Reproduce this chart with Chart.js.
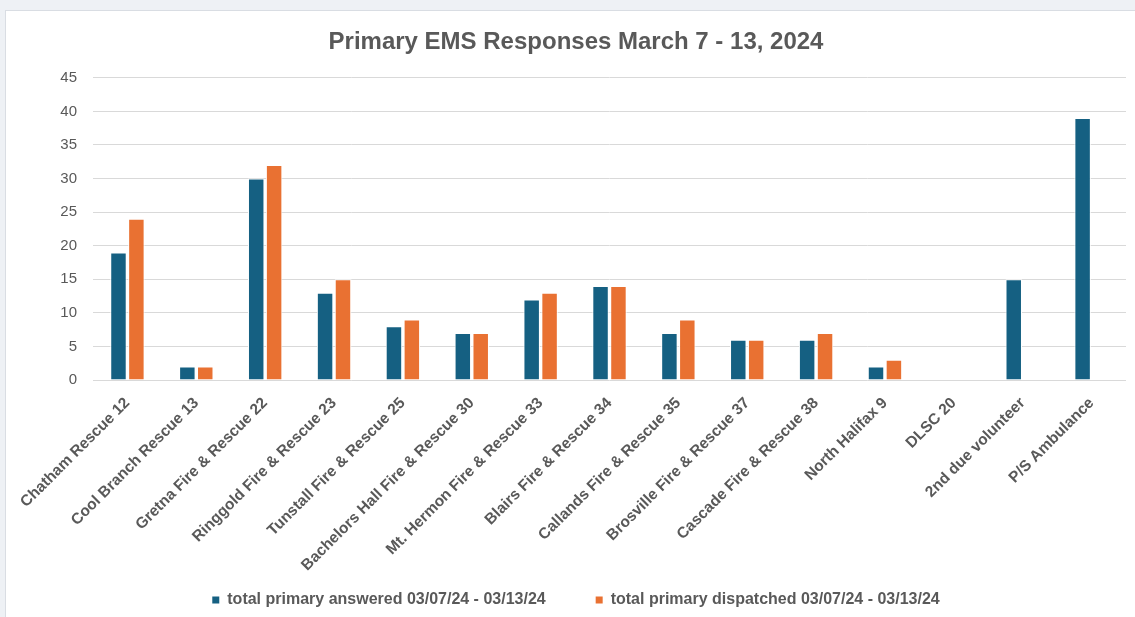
<!DOCTYPE html>
<html>
<head>
<meta charset="utf-8">
<script src="https://cdn.jsdelivr.net/npm/chart.js@4"></script>
<style>
  html, body { margin: 0; padding: 0; background: #eef1f5; width: 1135px; height: 617px; overflow: hidden; }
  #panel { position: absolute; left: 5px; top: 10px; width: 1130px; height: 607px; background: #fff; border-top: 1px solid #d9dde3; border-left: 1px solid #d9dde3; box-sizing: border-box; }
  canvas { display: block; }
</style>
</head>
<body>
<div id="panel"><canvas id="c" width="1129" height="606"></canvas></div>
<script>
const categories = [
  "Chatham Rescue 12", "Cool Branch Rescue 13", "Gretna Fire & Rescue 22",
  "Ringgold Fire & Rescue 23", "Tunstall Fire & Rescue 25", "Bachelors Hall Fire & Rescue 30",
  "Mt. Hermon Fire & Rescue 33", "Blairs Fire & Rescue 34", "Callands Fire & Rescue 35",
  "Brosville Fire & Rescue 37", "Cascade Fire & Rescue 38", "North Halifax 9",
  "DLSC 20", "2nd due volunteer", "P/S Ambulance"
];
const answered   = [19, 2, 30, 13, 8, 7, 12, 14, 7, 6, 6, 2, 0, 15, 39];
const dispatched = [24, 2, 32, 15, 9, 7, 13, 14, 9, 6, 7, 3, 0, null, null];
const seriesNames = [
  "total primary answered 03/07/24 - 03/13/24",
  "total primary dispatched 03/07/24 - 03/13/24"
];
const yTicks = [0, 5, 10, 15, 20, 25, 30, 35, 40, 45];
const titleText = "Primary EMS Responses March 7 - 13, 2024";

const gray = "#595959";
const FONT = "'Liberation Sans', Arial, sans-serif";

new Chart(document.getElementById("c"), {
  type: "bar",
  data: {
    labels: categories,
    datasets: [
      { label: seriesNames[0], data: answered, backgroundColor: "#156082", borderColor: "#ffffff", borderWidth: 1, categoryPercentage: 0.52, barPercentage: 0.92 },
      { label: seriesNames[1], data: dispatched, backgroundColor: "#E97132", borderColor: "#ffffff", borderWidth: 1, categoryPercentage: 0.52, barPercentage: 0.92 }
    ]
  },
  options: {
    responsive: false,
    animation: false,
    devicePixelRatio: 1,
    layout: { padding: { left: 20, right: 9, top: 0, bottom: -1 } },
    plugins: {
      title: {
        display: true, text: titleText, color: gray,
        font: { family: FONT, size: 24, weight: "bold" },
        padding: { top: 17, bottom: 21 }
      },
      legend: {
        position: "bottom",
        labels: {
          color: gray, boxWidth: 7, boxHeight: 7, padding: 10,
          font: { family: FONT, size: 16, weight: "bold" },
          generateLabels(chart) {
            const items = Chart.defaults.plugins.legend.labels.generateLabels(chart);
            items.forEach((i, k) => {
              i.lineWidth = 0;
              if (k === 0) i.text = i.text + "\u2003\u2003\u2002";
            });
            return items;
          }
        }
      },
      tooltip: { enabled: false }
    },
    scales: {
      x: {
        grid: { display: false, drawTicks: false },
        border: { display: false },
        ticks: {
          color: gray, maxRotation: 45, minRotation: 45, autoSkip: false, padding: 14,
          font: { family: FONT, size: 15.5, weight: "bold" }
        },
        afterFit(s) { s.height = 202; }
      },
      y: {
        min: 0, max: 45,
        afterBuildTicks(s) { s.ticks = yTicks.map(v => ({ value: v })); },
        grid: { color: "#d9d9d9", drawTicks: false, lineWidth: 1 },
        border: { display: false },
        ticks: {
          color: gray, padding: 16,
          font: { family: FONT, size: 15 }
        },
        afterFit(s) { s.width = 67; }
      }
    }
  }
});
</script>
</body>
</html>
